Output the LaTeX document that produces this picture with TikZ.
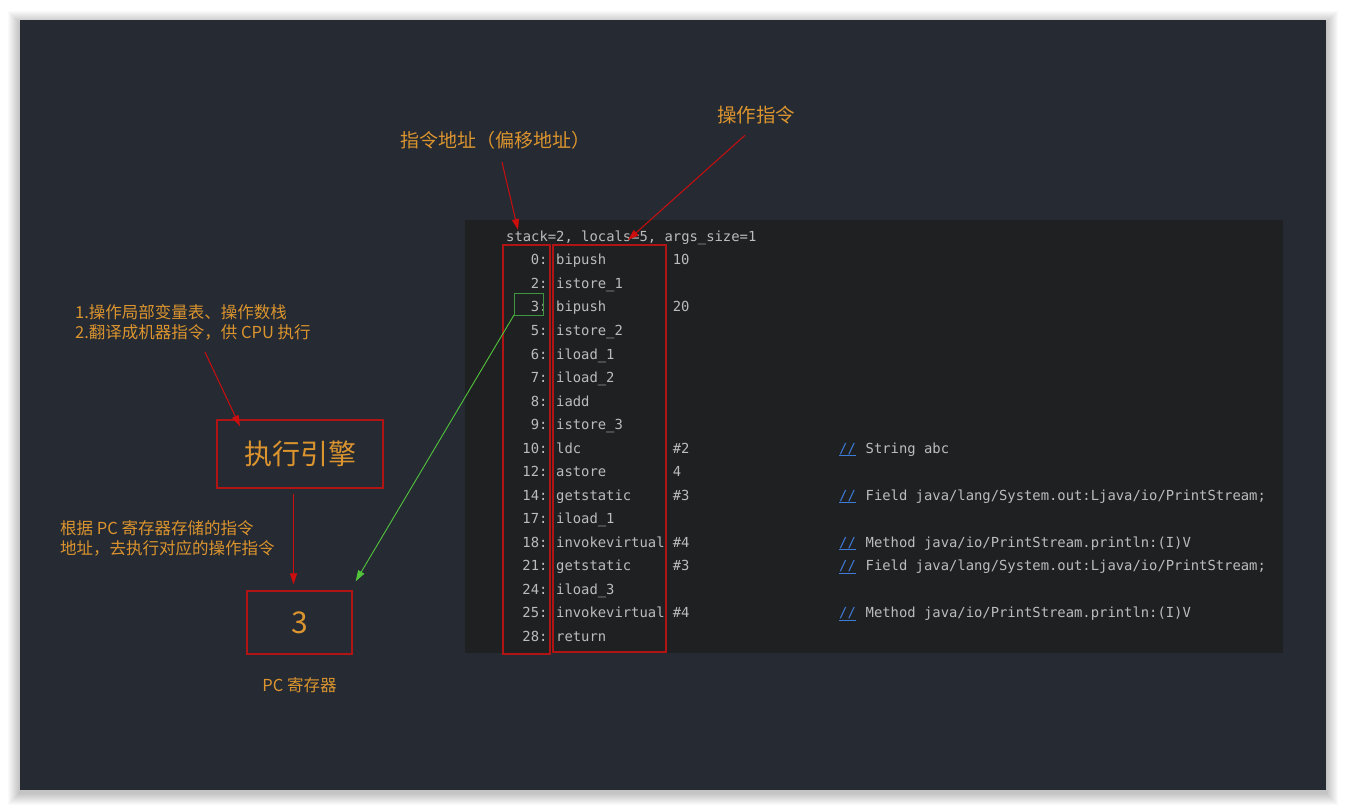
\documentclass[tikz,border=0pt]{standalone}
\usepackage{fontspec}
\newfontfamily\cjk{Noto Sans CJK SC}
\newfontfamily\codefont{DejaVu Sans Mono}
\usetikzlibrary{arrows.meta,positioning}

\definecolor{pagebg}{RGB}{37,42,51}
\definecolor{codebg}{RGB}{31,32,34}
\definecolor{notetxt}{RGB}{219,148,46}
\definecolor{boxred}{RGB}{176,20,20}
\definecolor{tipred}{RGB}{204,14,14}
\definecolor{curgreen}{RGB}{64,150,64}
\definecolor{jumpgreen}{RGB}{82,196,60}
\definecolor{codetxt}{RGB}{188,188,188}
\definecolor{cmtblue}{RGB}{62,124,218}

\begin{document}
\begin{tikzpicture}[x=1pt, y=-1pt,
  note/.style={font=\cjk, text=notetxt, inner sep=0pt},
  frame/.style={draw=boxred, line width=1.3pt},
  redarrow/.style={draw=tipred, line width=1pt, -{Triangle[length=11pt,width=7pt]}},
  code/.style={font=\codefont\fontsize{13.85}{16}\selectfont, text=codetxt,
               inner sep=0pt, anchor=base west}]

\useasboundingbox (0,0) rectangle (1346,810);
\fill[white] (0,0) rectangle (1346,810);
% soft shadow round the window
\foreach \k in {1,...,12}
  \fill[black, opacity=0.02] (20-\k,20-\k+3) rectangle (1326+\k,790+\k+3);
\fill[pagebg] (20,20) rectangle (1326,790);
\fill[codebg] (465,220) rectangle (1283,653);

% bytecode listing
\node[code] (head) at (506,242) {stack=2, locals=5, args\_size=1};
\foreach \i/\adr/\ins/\arg in {0/0/bipush/10, 1/2/istore\_1/{}, 2/3/bipush/20,
    3/5/istore\_2/{}, 4/6/iload\_1/{}, 5/7/iload\_2/{}, 6/8/iadd/{},
    7/9/istore\_3/{}, 8/10/ldc/\#2, 9/12/astore/4, 10/14/getstatic/\#3,
    11/17/iload\_1/{}, 12/18/invokevirtual/\#4, 13/21/getstatic/\#3,
    14/24/iload\_3/{}, 15/25/invokevirtual/\#4, 16/28/return/{}} {
  \node[code, anchor=base east] (adr\i) at (547.7,265+23.5*\i) {\adr:};
  \node[code] (ins\i) at (556,265+23.5*\i) {\ins};
  \node[code] (arg\i) at (672.6,265+23.5*\i) {\arg};
}
\foreach \i in {8,10,12,13,15}
  \node[code, text=cmtblue] (sl\i) at (839,265+23.5*\i) {\underline{//}};
\node[code] (cm8)  at (865.5,453)   {String abc};
\node[code] (cm10) at (865.5,500)   {Field java/lang/System.out:Ljava/io/PrintStream;};
\node[code] (cm12) at (865.5,547)   {Method java/io/PrintStream.println:(I)V};
\node[code] (cm13) at (865.5,570.5) {Field java/lang/System.out:Ljava/io/PrintStream;};
\node[code] (cm15) at (865.5,617.5) {Method java/io/PrintStream.println:(I)V};

\draw[frame] (503,245) rectangle (550,654);
\draw[frame] (553,245) rectangle (666,652);
\draw[draw=curgreen, line width=1pt] (514,293) rectangle (543,315);
\coordinate (cur) at (514,315);
\coordinate (adrtip) at (518,230);
\coordinate (instip) at (628,240);

% labels above the listing
\node[note, font=\cjk\fontsize{19}{22}\selectfont] (adrlbl) at (495,140) {指令地址（偏移地址）};
\node[note, font=\cjk\fontsize{19.5}{22}\selectfont] (inslbl) at (756,115) {操作指令};
\draw[redarrow] ([xshift=7pt,yshift=-13pt]adrlbl.south) -- (adrtip);
\draw[redarrow] ([xshift=-11pt,yshift=-11pt]inslbl.south) -- (instip);

% execution engine and pc register
\node[note, font=\cjk\fontsize{16.5}{20}\selectfont, align=left, anchor=west] (task) at (75,322)
  {1.操作局部变量表、操作数栈\\2.翻译成机器指令，供 CPU 执行};
\node[note, draw=boxred, line width=1.3pt, font=\cjk\fontsize{28}{32}\selectfont,
      minimum width=166pt, minimum height=68pt] (engine) at (300,454) {执行引擎};
\node[note, draw=boxred, line width=1.3pt, font=\cjk\fontsize{30}{34}\selectfont,
      minimum width=105pt, minimum height=63pt] (pc) at (299.5,622.5) {3};
\node[note, font=\cjk\fontsize{16.5}{20}\selectfont] (pclbl) [below=23pt of pc] {PC 寄存器};
\node[note, font=\cjk\fontsize{16.5}{20}\selectfont, align=left, anchor=west] (fetch) at (60,538)
  {根据 PC 寄存器存储的指令\\地址，去执行对应的操作指令};

\draw[redarrow] ([xshift=12pt,yshift=-12pt]task.south) -- ([xshift=-60pt,yshift=-7pt]engine.north);
\draw[redarrow] ([xshift=-6.5pt,yshift=-5pt]engine.south) -- ([xshift=-6pt,yshift=6pt]pc.north);
\draw[draw=jumpgreen, line width=0.9pt, -{Triangle[length=11pt,width=7pt]}]
  (cur) -- ([xshift=3pt,yshift=9pt]pc.north east);

\end{tikzpicture}
\end{document}
